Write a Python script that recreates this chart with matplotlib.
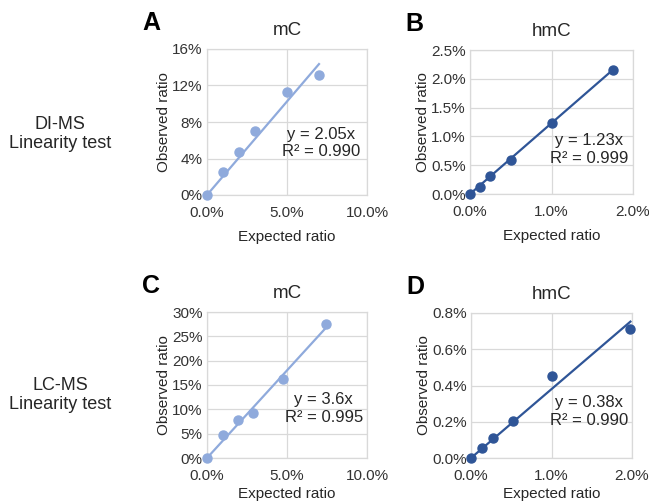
import matplotlib
matplotlib.use("Agg")
import matplotlib.pyplot as plt
from matplotlib.ticker import FuncFormatter

plt.rcParams['font.family'] = ['Liberation Sans', 'DejaVu Sans']

# data (fractions in %)
# A : DI-MS mC
a_x = [0, 1, 2, 3, 5, 7]
a_y = [0, 2.5, 4.7, 7.05, 11.25, 13.15]
a_slope = 2.05
# B : DI-MS hmC
b_x = [0, 0.125, 0.25, 0.5, 1.0, 1.75]
b_y = [0, 0.13, 0.31, 0.59, 1.24, 2.16]
b_slope = 1.23
# C : LC-MS mC
c_x = [0, 1, 1.95, 2.9, 4.75, 7.45]
c_y = [0, 4.7, 7.9, 9.2, 16.2, 27.6]
c_slope = 3.6
# D : LC-MS hmC
d_x = [0, 0.14, 0.27, 0.52, 1.0, 1.98]
d_y = [0, 0.053, 0.11, 0.205, 0.45, 0.71]
d_slope = 0.38

light = '#8FAADC'
dark = '#2F5597'
grid_c = '#D9D9D9'
txt_c = '#262626'

W, H = 649, 504
fig = plt.figure(figsize=(W / 100, H / 100), dpi=100)

def add_ax(l, t, r, b):
    return fig.add_axes([l / W, 1 - b / H, (r - l) / W, (b - t) / H])

panels = [
    # letter, title, x, y, slope, color, xmax, ymax, ystep, xfmt, yfmt, eq, r2, box, eq pos, xlabel pad
    ('A', 'mC', a_x, a_y, a_slope, light, 10, 16, 4, '{:.1f}%', '{:.0f}%', 'y = 2.05x', 'R² = 0.990',
     (207, 49, 367, 195), (0.955, 0.355), 7),
    ('B', 'hmC', b_x, b_y, b_slope, dark, 2, 2.5, 0.5, '{:.1f}%', '{:.1f}%', 'y = 1.23x', 'R² = 0.999',
     (470, 50, 633, 194), (0.97, 0.31), 7),
    ('C', 'mC', c_x, c_y, c_slope, light, 10, 30, 5, '{:.1f}%', '{:.0f}%', 'y = 3.6x', 'R² = 0.995',
     (207, 312, 367, 458), (0.975, 0.34), 3),
    ('D', 'hmC', d_x, d_y, d_slope, dark, 2, 0.8, 0.2, '{:.1f}%', '{:.1f}%', 'y = 0.38x', 'R² = 0.990',
     (471, 313, 632, 458), (0.975, 0.32), 3),
]

for letter, title, xs, ys, slope, col, xmax, ymax, ystep, xfmt, yfmt, eq, r2, box, eqpos, xpad in panels:
    ax = add_ax(*box)
    xend = xs[-1]
    ax.plot([0, xend], [0, slope * xend], color=col, lw=1.6, zorder=3)
    ax.plot(xs, ys, 'o', color=col, ms=6.5, zorder=4, clip_on=False)
    ax.set_xlim(0, xmax)
    ax.set_ylim(0, ymax)
    ax.set_xticks([0, xmax / 2, xmax])
    n = int(round(ymax / ystep))
    ax.set_yticks([i * ystep for i in range(n + 1)])
    ax.xaxis.set_major_formatter(FuncFormatter(lambda v, p, f=xfmt: f.format(v)))
    ax.yaxis.set_major_formatter(FuncFormatter(lambda v, p, f=yfmt: f.format(v)))
    ax.grid(True, color=grid_c, lw=0.9)
    ax.set_axisbelow(True)
    for s in ax.spines.values():
        s.set_color(grid_c)
        s.set_linewidth(0.9)
    ax.tick_params(length=0, labelsize=11, labelcolor='#333333')
    ax.tick_params(axis='x', pad=8)
    ax.tick_params(axis='y', pad=3)
    ax.set_xlabel('Expected ratio', fontsize=11, labelpad=xpad, color=txt_c)
    ax.set_ylabel('Observed ratio', fontsize=11, labelpad=1, color=txt_c)
    ax.set_title(title, fontsize=13.5, pad=10, color=txt_c)
    ax.text(eqpos[0], eqpos[1], eq + '\n' + r2, transform=ax.transAxes, ha='right', va='center',
            multialignment='center', fontsize=12, linespacing=1.2, color=txt_c)
    l, t, r, b = box
    fig.text((l - 65) / W, 1 - (t - 26) / H, letter, fontsize=18, fontweight='bold',
             ha='left', va='center', color='black')

fig.text(60 / W, 1 - 134 / H, 'DI-MS\nLinearity test', fontsize=13, ha='center', va='center',
         linespacing=1.15, color=txt_c)
fig.text(60 / W, 1 - 395 / H, 'LC-MS\nLinearity test', fontsize=13, ha='center', va='center',
         linespacing=1.15, color=txt_c)

fig.savefig('out.png', dpi=100)
